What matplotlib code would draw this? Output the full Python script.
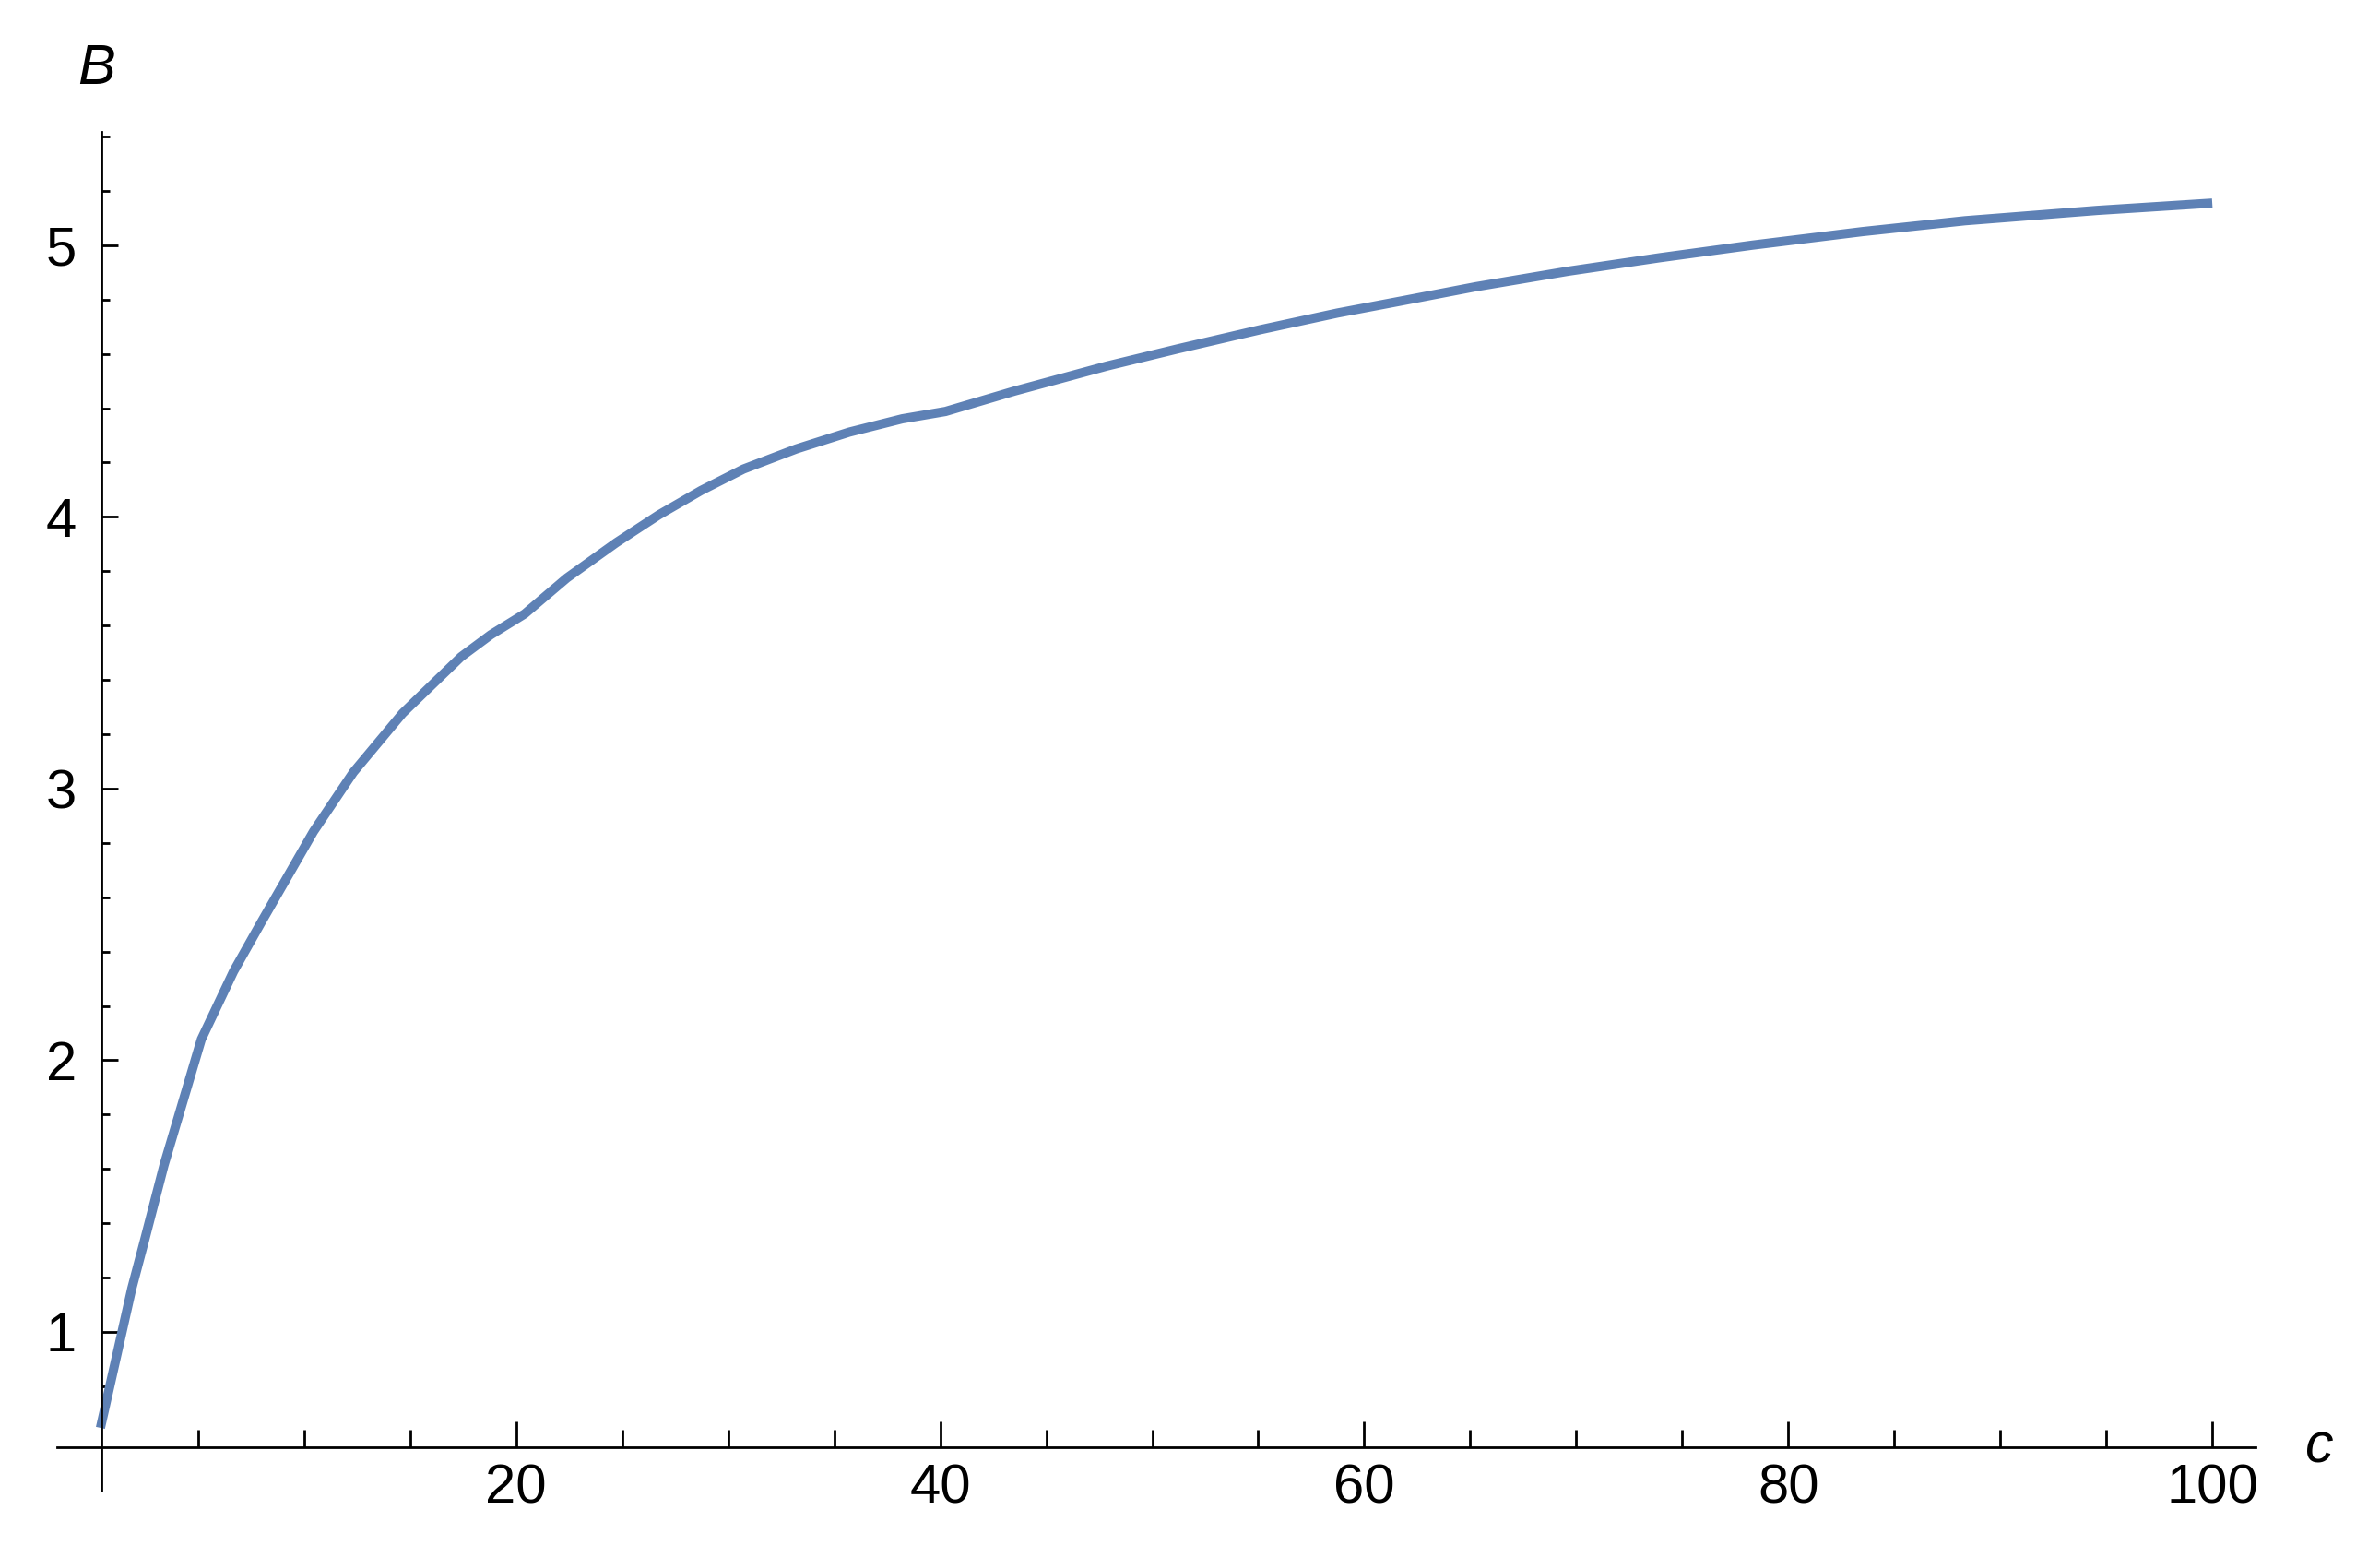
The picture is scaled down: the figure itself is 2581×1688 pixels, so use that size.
import matplotlib
matplotlib.use("Agg")
import matplotlib.pyplot as plt
from matplotlib.ticker import FixedLocator

# ---- data ----
c_vals = [0.39, 1.87, 2.47, 3.39, 5.15, 6.67, 7.97, 10.44, 12.32, 14.64,
          17.4, 18.8, 20.4, 22.39, 24.72, 26.72, 28.72, 30.72, 33.21, 35.71,
          38.21, 40.25, 43.5, 47.85, 51.18, 55.1, 58.72, 61.77, 65.25, 69.6,
          73.95, 78.29, 83.5, 88.33, 94.57, 100.0]
B_vals = [0.647, 1.16, 1.337, 1.614, 2.077, 2.327, 2.507, 2.842, 3.06, 3.277,
          3.485, 3.566, 3.643, 3.775, 3.905, 4.007, 4.097, 4.176, 4.25, 4.312,
          4.361, 4.388, 4.463, 4.555, 4.618, 4.689, 4.75, 4.795, 4.847, 4.904,
          4.954, 5.0, 5.05, 5.09, 5.128, 5.155]

x_major = [20, 40, 60, 80, 100]
x_minor = [5, 10, 15, 25, 30, 35, 45, 50, 55, 65, 70, 75, 85, 90, 95]
y_major = [1, 2, 3, 4, 5]
y_minor = [0.8, 1.2, 1.4, 1.6, 1.8, 2.2, 2.4, 2.6, 2.8, 3.2, 3.4, 3.6, 3.8,
           4.2, 4.4, 4.6, 4.8, 5.2, 5.4]
x_label = "c"
y_label = "B"

# ---- layout ----
W, H, DPI = 2581, 1688, 200
plt.rcParams['font.family'] = ['Liberation Sans', 'DejaVu Sans']

fig = plt.figure(figsize=(W / DPI, H / DPI), dpi=DPI)
px_left, px_right, px_top, px_bottom = 62, 2446, 143, 1616
ax = fig.add_axes([px_left / W, 1 - px_bottom / H,
                   (px_right - px_left) / W, (px_bottom - px_top) / H])
ax.set_xlim(-1.65, 102.04)
ax.set_ylim(0.416, 5.417)

line_color = "#5E81B5"
ax.plot(c_vals, B_vals, color=line_color, lw=3.6,
        solid_capstyle='butt', solid_joinstyle='round', clip_on=False)

for s in ("top", "right"):
    ax.spines[s].set_visible(False)
ax.spines["left"].set_position(("data", 0.43))
ax.spines["bottom"].set_position(("data", 0.576))
for s in ("left", "bottom"):
    ax.spines[s].set_linewidth(1.0)
    ax.spines[s].set_color("black")

ax.xaxis.set_major_locator(FixedLocator(x_major))
ax.xaxis.set_minor_locator(FixedLocator(x_minor))
ax.yaxis.set_major_locator(FixedLocator(y_major))
ax.yaxis.set_minor_locator(FixedLocator(y_minor))
ax.set_xticklabels([str(v) for v in x_major])
ax.set_yticklabels([str(v) for v in y_major])

ax.tick_params(axis='x', which='major', direction='in', length=10.1, width=1.0,
               labelsize=21.5, pad=6.5)
ax.tick_params(axis='x', which='minor', direction='in', length=6.8, width=1.0)
ax.tick_params(axis='y', which='major', direction='in', length=6.5, width=1.0,
               labelsize=21.5, pad=9.7)
ax.tick_params(axis='y', which='minor', direction='in', length=3.2, width=1.0)
ax.patch.set_visible(False)

fig.text(104.5 / W, 1 - 91 / H, y_label, fontsize=22, style='italic',
         ha='center', va='baseline')
fig.text(2515 / W, 1 - 1585 / H, x_label, fontsize=22, style='italic',
         ha='center', va='baseline')

fig.savefig("out.png", dpi=DPI, facecolor="white")
